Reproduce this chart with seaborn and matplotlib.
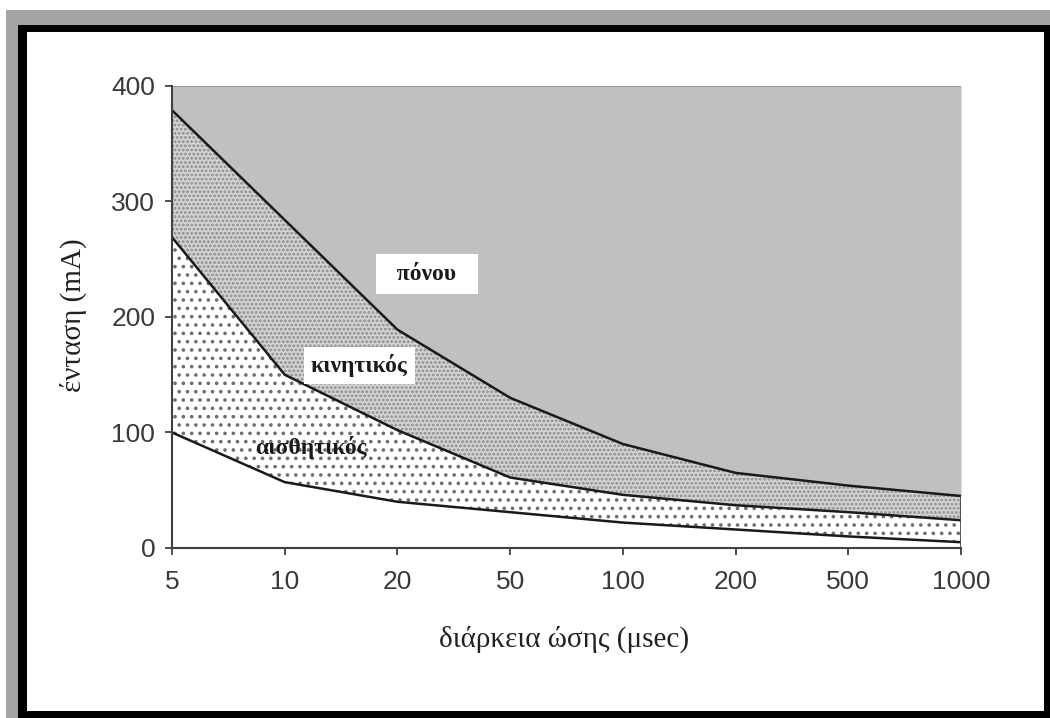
import matplotlib
matplotlib.use("Agg")
import matplotlib.pyplot as plt
import seaborn as sns
import numpy as np
import pandas as pd
from matplotlib.patches import Rectangle

durations = ["5", "10", "20", "50", "100", "200", "500", "1000"]
pain = [379, 284, 189, 130, 90, 65, 54, 45]
motor = [269, 150, 102, 61, 46, 37, 31, 24]
sensory = [100, 57, 40, 31, 22, 16, 10, 5]

ylabel = "ένταση (mA)"
xlabel = "διάρκεια ώσης (μsec)"

sns.set_theme(style="white")
plt.rcParams["font.family"] = ["Liberation Sans", "DejaVu Sans"]
plt.rcParams["hatch.linewidth"] = 1.4

fig = plt.figure(figsize=(10.5, 7.18), dpi=100)

# picture frame with shadow
fig.patches.append(Rectangle((0.006, 0.0), 0.994, 0.986, transform=fig.transFigure,
                             facecolor="#a4a4a4", edgecolor="none", zorder=-3))
fig.patches.append(Rectangle((0.017, 0.0), 0.983, 0.965, transform=fig.transFigure,
                             facecolor="black", edgecolor="none", zorder=-2))
fig.patches.append(Rectangle((0.026, 0.010), 0.968, 0.945, transform=fig.transFigure,
                             facecolor="white", edgecolor="none", zorder=-1))

ax = fig.add_axes([0.1638, 0.2368, 0.7515, 0.6435])
ax.set_facecolor("none")

df = pd.DataFrame({"x": np.arange(len(durations)), "pain": pain,
                   "motor": motor, "sensory": sensory})
xs = df["x"].values

ax.fill_between(xs, df["pain"], 400, facecolor="#c0c0c0", linewidth=0, zorder=1)
ax.fill_between(xs, df["motor"], df["pain"], facecolor="#d4d4d4",
                edgecolor="#8c8c8c", hatch="....", linewidth=0, zorder=1)
ax.fill_between(xs, df["sensory"], df["motor"], facecolor="white",
                edgecolor="#6e6e6e", hatch="..", linewidth=0, zorder=1)

for col in ["pain", "motor", "sensory"]:
    sns.lineplot(data=df, x="x", y=col, ax=ax, color="#1a1a1a", linewidth=1.8, zorder=3)

ax.vlines(xs[-1], 0, pain[-1], color="#404040", linewidth=1.2, zorder=3)
ax.hlines(400, xs[0], xs[-1], color="#8a8a8a", linewidth=1.2, zorder=3)

ax.set_xlim(xs[0], xs[-1])
ax.set_ylim(0, 400)
ax.set_xticks(xs)
ax.set_xticklabels(durations)
ax.set_yticks([0, 100, 200, 300, 400])
ax.tick_params(axis="both", direction="out", length=5, width=1.3, color="#404040",
               labelsize=19, labelcolor="#3a3a3a", bottom=True, left=True)
ax.tick_params(axis="y", pad=7)
ax.tick_params(axis="x", pad=11)
for s in ["top", "right"]:
    ax.spines[s].set_visible(False)
for s in ["left", "bottom"]:
    ax.spines[s].set_color("#404040")
    ax.spines[s].set_linewidth(1.5)
    ax.spines[s].set_zorder(4)

serif = ["Liberation Serif", "DejaVu Serif"]
ax.set_xlabel("")
ax.set_ylabel("")
fig.text(0.537, 0.109, xlabel, family=serif, fontsize=21, color="#222222",
         ha="center", va="center")
fig.text(0.070, 0.561, ylabel, family=serif, fontsize=21, color="#222222",
         ha="center", va="center", rotation=90)

lab_kw = dict(family=serif, fontsize=17, fontweight="bold", color="#1a1a1a",
              ha="center", va="center", zorder=5)
ax.text(2.26, 237, "  πόνου  ", **lab_kw,
        bbox=dict(facecolor="white", edgecolor="none", boxstyle="square,pad=0.4"))
ax.text(1.66, 158, "κινητικός", **lab_kw,
        bbox=dict(facecolor="white", edgecolor="none", boxstyle="square,pad=0.3"))
ax.text(1.23, 87, "αισθητικός", **lab_kw)

fig.savefig("out.png", dpi=100)
